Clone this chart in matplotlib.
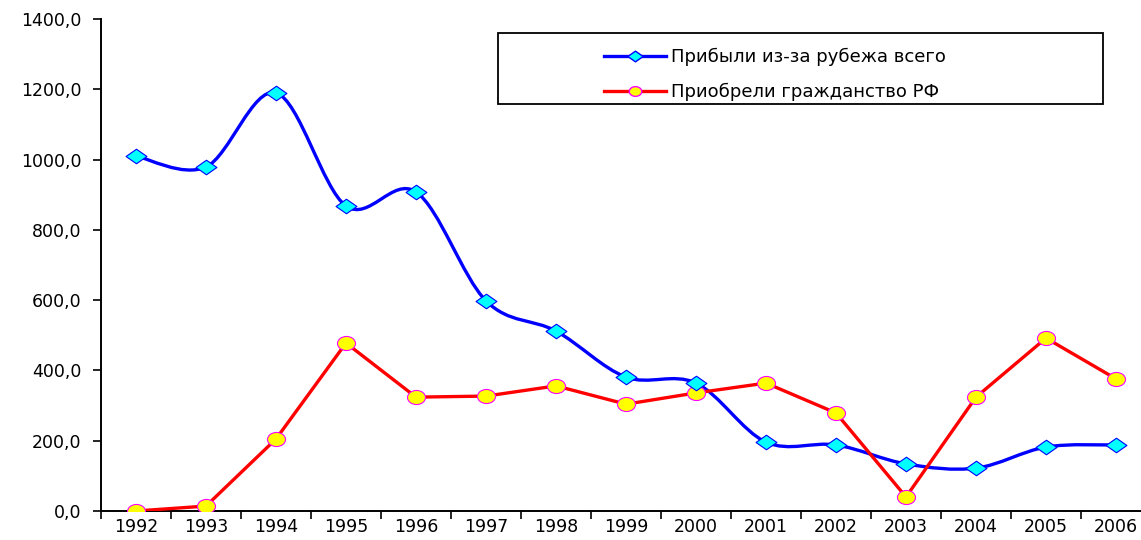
import matplotlib.pyplot as plt
import numpy as np
from matplotlib.markers import MarkerStyle
from matplotlib.patches import PathPatch, Rectangle
from matplotlib.path import Path
from matplotlib.ticker import FixedLocator, FuncFormatter
from matplotlib.transforms import Affine2D

years = ["1992", "1993", "1994", "1995", "1996", "1997", "1998", "1999",
         "2000", "2001", "2002", "2003", "2004", "2005", "2006"]
arrived = [1010, 979, 1190, 868, 908, 598, 512, 381,
           364, 196, 188, 134, 122, 182, 188]
citizenship = [0, 14, 205, 478, 324, 327, 356, 304,
               336, 364, 279, 40, 324, 492, 376]
label_arrived = "Прибыли из-за рубежа всего"
label_citizenship = "Приобрели гражданство РФ"

plt.rcParams["font.family"] = ["DejaVu Sans"]


def smooth_path(xs, ys):
    # Excel-style smoothed line: cubic Bezier segments through every point
    pts = np.column_stack([xs, ys]).astype(float)
    verts = [pts[0]]
    codes = [Path.MOVETO]
    n = len(pts)
    for i in range(n - 1):
        p0 = pts[max(i - 1, 0)]
        p1 = pts[i]
        p2 = pts[i + 1]
        p3 = pts[min(i + 2, n - 1)]
        verts += [p1 + (p2 - p0) / 6, p2 - (p3 - p1) / 6, p2]
        codes += [Path.CURVE4] * 3
    return Path(verts, codes)


fig = plt.figure(figsize=(11.41, 5.40), dpi=100)
ax = fig.add_axes([101 / 1141, 29 / 540, 1050 / 1141, 492 / 540])

x = np.arange(len(years))

diamond = MarkerStyle(Path([(-1, 0), (0, 0.7), (1, 0), (0, -0.7), (-1, 0)],
                           [1, 2, 2, 2, 79]))
ellipse = MarkerStyle(Path.unit_circle().transformed(Affine2D().scale(1, 0.78)))

ax.add_patch(PathPatch(smooth_path(x, arrived), fill=False,
                       edgecolor="#0000ff", lw=2.4, zorder=2))
ax.plot(x, arrived, linestyle="none", marker=diamond, markersize=15,
        markerfacecolor="#00ffff", markeredgecolor="#0000ff",
        markeredgewidth=0.8, zorder=4)
ax.plot(x, citizenship, color="#ff0000", lw=2.4, marker=ellipse,
        markersize=13, markerfacecolor="#ffff00", markeredgecolor="#ff00ff",
        markeredgewidth=0.8, zorder=3)

ax.set_xlim(-0.5, len(years) - 0.5)
ax.set_ylim(0, 1400)

ax.set_yticks(np.arange(0, 1401, 200))
ax.yaxis.set_major_formatter(
    FuncFormatter(lambda v, _: f"{v:.1f}".replace(".", ",")))
ax.set_xticks(x)
ax.set_xticklabels(years)
ax.xaxis.set_minor_locator(FixedLocator(np.arange(-0.5, len(years), 1)))
ax.tick_params(axis="x", which="major", length=0, pad=5, labelsize=12.5)
ax.tick_params(axis="x", which="minor", length=6, width=1.2, direction="out")
ax.tick_params(axis="y", length=6, width=1.2, direction="out", pad=8,
               labelsize=12.5)

for side in ["top", "right"]:
    ax.spines[side].set_visible(False)
for side in ["left", "bottom"]:
    ax.spines[side].set_linewidth(1.4)

# legend box
fig.patches.append(Rectangle((498 / 1141, 1 - 104 / 540), 605 / 1141,
                             71 / 540, transform=fig.transFigure,
                             fill=False, edgecolor="black", lw=1.3))
h1, = ax.plot([], [], color="#0000ff", lw=2.4, marker=diamond, markersize=11,
              markerfacecolor="#00ffff", markeredgecolor="#0000ff")
h2, = ax.plot([], [], color="#ff0000", lw=2.4, marker=ellipse, markersize=9,
              markerfacecolor="#ffff00", markeredgecolor="#ff00ff")
fig.legend([h1, h2], [label_arrived, label_citizenship],
           loc="upper left", bbox_to_anchor=(588 / 1141, 1 - 32 / 540),
           frameon=False, fontsize=13, handlelength=3.4,
           handletextpad=0.3, labelspacing=0.9, borderpad=0.4)

fig.savefig("out.png", dpi=100)
